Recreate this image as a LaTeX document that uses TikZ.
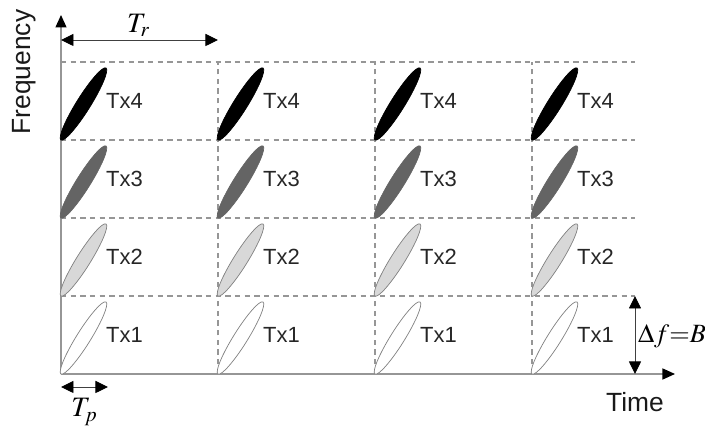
\documentclass[tikz,border=0pt]{standalone}
\usepackage{mathptmx}
\usepackage{fontspec}
\setmainfont{Liberation Sans}
\definecolor{gridgray}{RGB}{150,150,150}
\definecolor{txdark}{RGB}{100,100,100}
\definecolor{txlight}{RGB}{216,216,216}
\usetikzlibrary{arrows.meta,positioning,shapes.geometric}

\begin{document}
\begin{tikzpicture}[
  cellline/.style={gridgray,dash pattern=on 3pt off 2.5pt,line width=0.6pt},
  axisline/.style={gridgray,line width=0.8pt,-{Triangle[black,length=0.25cm,width=0.22cm]}},
  spanarrow/.style={black!75,line width=0.5pt,{Triangle[black,length=0.25cm,width=0.24cm]}-{Triangle[black,length=0.25cm,width=0.24cm]}},
  pulse/.style={ellipse,line width=0.4pt,minimum width=1.7cm,minimum height=0.28cm,inner sep=0pt,rotate=58},
  txlabel/.style={font=\fontsize{12.5}{14}\selectfont,text=black!85},
  axislabel/.style={font=\fontsize{15}{18}\selectfont,text=black!90},
  mathlabel/.style={font=\fontsize{16}{18}\selectfont}]
  \useasboundingbox (-1.22,-1.10) rectangle (12.88,7.48);
  % Axes
  \coordinate (o) at (0,0);
  \coordinate (ytop) at (0,7.18);
  \coordinate (xend) at (12.28,0);
  \node[axislabel,rotate=90] (freq) at (-0.74,6.04) {Frequency};
  \node[axislabel] (time) at (11.48,-0.56) {Time};
  % Grid of slots
  \foreach \r in {1,...,4}
    \draw[cellline] (0,{1.56*\r}) -- (11.48,{1.56*\r});
  \foreach \c in {1,...,3}
    \draw[cellline] ({3.14*\c},0) -- ({3.14*\c},6.24);
  \draw[axisline] (o) -- (ytop);
  \draw[axisline] (o) -- (xend);
  % Pulses
  \foreach \c in {0,...,3}
    \foreach \r/\fc/\dc in {1/white/gray,2/txlight/gray,3/txdark/txdark,4/black/black}{
      \node[pulse,fill=\fc,draw=\dc] (p\r-\c) at ({3.14*\c+0.45},{1.56*(\r-1)+0.72}) {};
      \node[txlabel] (tx\r-\c) at ({3.14*\c+1.27},{1.56*(\r-1)+0.79}) {Tx\r};
    }
  % Tr
  \coordinate (tra) at (0,6.68);
  \coordinate (trb) at (3.14,6.68);
  \draw[spanarrow] (tra) -- (trb);
  \node[mathlabel] (trlabel) at (1.55,6.98) {$T_r$};
  % Tp
  \coordinate (tpa) at (0,-0.26);
  \coordinate (tpb) at (0.94,-0.26);
  \draw[spanarrow] (tpa) -- (tpb);
  \node[mathlabel] (tplabel) at (0.47,-0.76) {$T_p$};
  % Delta f
  \coordinate (dfa) at (11.48,0);
  \coordinate (dfb) at (11.48,1.56);
  \draw[spanarrow] (dfa) -- (dfb);
  \node[mathlabel,font=\fontsize{15}{17}\selectfont] (dflabel) at (12.22,0.76) {$\Delta f{=}B$};
\end{tikzpicture}
\end{document}
